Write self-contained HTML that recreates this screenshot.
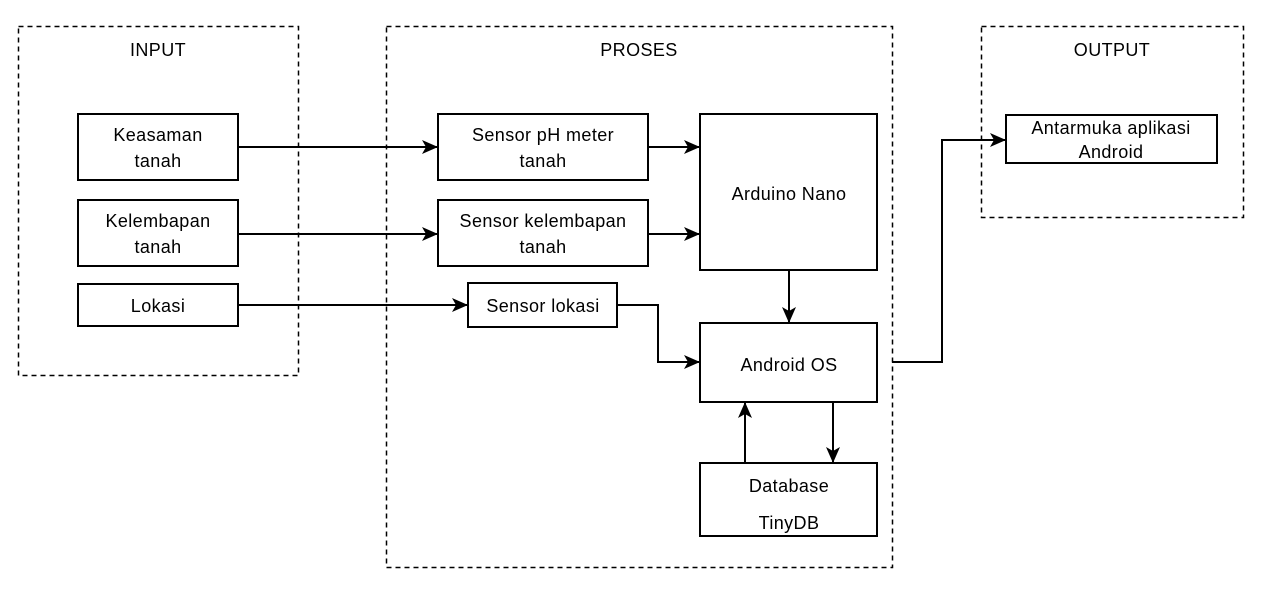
<!DOCTYPE html>
<html><head><style>
body{margin:0;background:#fff;}
svg text{font-family:"Liberation Sans",Arial,sans-serif;font-size:18px;letter-spacing:0.4px;fill:#000;text-anchor:middle;}
</style></head><body>
<svg width="1270" height="588" viewBox="0 0 1270 588" xmlns="http://www.w3.org/2000/svg">
<defs>
<marker id="b" markerWidth="16" markerHeight="14" refX="15" refY="7" orient="auto" markerUnits="userSpaceOnUse"><path d="M0,0 L16,7 L0,14 L4,7 z" fill="#000"/></marker></defs>
<g fill="none" stroke="#000" stroke-width="1.5" stroke-dasharray="5,4">
<rect x="18.5" y="26.5" width="280" height="349"/>
<rect x="386.5" y="26.5" width="506" height="541"/>
<rect x="981.5" y="26.5" width="262" height="191"/>
</g>
<g fill="#fff" stroke="#000" stroke-width="2">
<rect x="78" y="114" width="160" height="66"/>
<rect x="78" y="200" width="160" height="66"/>
<rect x="78" y="284" width="160" height="42"/>
<rect x="438" y="114" width="210" height="66"/>
<rect x="438" y="200" width="210" height="66"/>
<rect x="468" y="283" width="149" height="44"/>
<rect x="700" y="114" width="177" height="156"/>
<rect x="700" y="323" width="177" height="79"/>
<rect x="700" y="463" width="177" height="73"/>
<rect x="1006" y="115" width="211" height="48"/>
</g>
<g fill="none" stroke="#000" stroke-width="2" marker-end="url(#b)">
<path d="M238,147 H437"/>
<path d="M238,234 H437"/>
<path d="M238,305 H467"/>
<path d="M648,147 H699"/>
<path d="M648,234 H699"/>
<path d="M617,305 H658 V362 H699"/>
<path d="M789,270 V322"/>
<path d="M892,362 H942 V140 H1005"/>
<path d="M745,463 V403"/>
<path d="M833,402 V462"/>
</g>
<text x="158" y="56">INPUT</text>
<text x="639" y="56">PROSES</text>
<text x="1112" y="56">OUTPUT</text>
<text x="158" y="141">Keasaman</text><text x="158" y="167">tanah</text>
<text x="158" y="227">Kelembapan</text><text x="158" y="253">tanah</text>
<text x="158" y="312">Lokasi</text>
<text x="543" y="141">Sensor pH meter</text><text x="543" y="167">tanah</text>
<text x="543" y="227">Sensor kelembapan</text><text x="543" y="253">tanah</text>
<text x="543" y="312">Sensor lokasi</text>
<text x="789" y="200">Arduino Nano</text>
<text x="789" y="371">Android OS</text>
<text x="789" y="492">Database</text><text x="789" y="529">TinyDB</text>
<text x="1111" y="134">Antarmuka aplikasi</text><text x="1111" y="158">Android</text>
</svg>
</body></html>
